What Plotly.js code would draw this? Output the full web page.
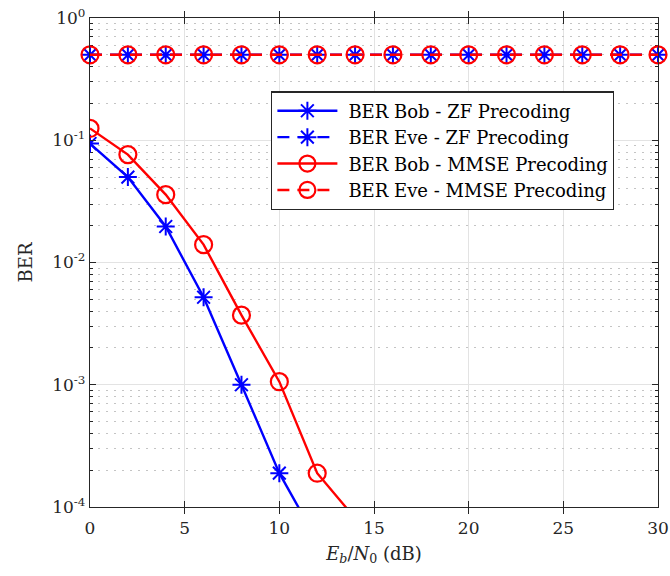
<!DOCTYPE html>
<html>
<head>
<meta charset="utf-8">
<script src="https://cdn.plot.ly/plotly-3.0.1.min.js"></script>
<style>html,body{margin:0;padding:0;background:#fff;}#chart{width:670px;height:576px;}</style>
</head>
<body>
<div id="chart"></div>
<script>
const snr = [0, 2, 4, 6, 8, 10, 12, 14, 16, 18, 20, 22, 24, 26, 28, 30];
const berBobZF   = [0.094, 0.050, 0.0197, 0.0052, 0.00100, 0.000189, 0.000053, null, null, null, null, null, null, null, null, null];
const berEveZF   = [0.5, 0.5, 0.5, 0.5, 0.5, 0.5, 0.5, 0.5, 0.5, 0.5, 0.5, 0.5, 0.5, 0.5, 0.5, 0.5];
const berBobMMSE = [0.125, 0.0763, 0.0359, 0.0140, 0.00371, 0.00106, 0.000189, 0.000081, null, null, null, null, null, null, null, null];
const berEveMMSE = [0.5, 0.5, 0.5, 0.5, 0.5, 0.5, 0.5, 0.5, 0.5, 0.5, 0.5, 0.5, 0.5, 0.5, 0.5, 0.5];
const seriesNames = ['BER Bob - ZF Precoding', 'BER Eve - ZF Precoding', 'BER Bob - MMSE Precoding', 'BER Eve - MMSE Precoding'];
const yTickVals = [1e-4, 1e-3, 1e-2, 1e-1, 1];
const yTickText = ['10<sup>-4</sup>', '10<sup>-3</sup>', '10<sup>-2</sup>', '10<sup>-1</sup>', '10<sup>0</sup>'];
const yMinorMantissas = [2, 3, 4, 5, 6, 7, 8, 9];
const xTickVals = [0, 5, 10, 15, 20, 25, 30];

const yMinorVals = [];
yTickVals.slice(0, -1).forEach(d => yMinorMantissas.forEach(m => yMinorVals.push(d * m)));

const blue = '#0000ff', red = '#ff0000';
const starMarker = {symbol: 'asterisk-open', size: 15, color: blue, line: {color: blue, width: 2}};
const circMarker = {symbol: 'circle-open', size: 17, color: red, line: {color: red, width: 2.2}};

const traces = [
  {x: snr, y: berBobZF, name: seriesNames[0], mode: 'lines+markers', line: {color: blue, width: 2.4}, marker: starMarker},
  {x: snr, y: berEveZF, name: seriesNames[1], mode: 'lines+markers', line: {color: blue, width: 2.4, dash: '12px,8px'}, marker: starMarker, cliponaxis: false},
  {x: snr, y: berBobMMSE, name: seriesNames[2], mode: 'lines+markers', line: {color: red, width: 2.4}, marker: circMarker},
  {x: snr, y: berEveMMSE, name: seriesNames[3], mode: 'lines+markers', line: {color: red, width: 2.4, dash: '12px,8px'}, marker: circMarker, cliponaxis: false},
  {x: [null], y: [null], yaxis: 'y2', showlegend: false, hoverinfo: 'skip', mode: 'markers'}
];

const fam = 'DejaVu Serif';
const axisColor = '#262626';

const layout = {
  width: 670, height: 576,
  margin: {l: 90, r: 12, t: 18, b: 69},
  paper_bgcolor: '#fff', plot_bgcolor: '#fff',
  font: {family: fam, size: 16, color: axisColor},
  showlegend: true,
  legend: {
    x: 0.319, y: 0.85, xanchor: 'left', yanchor: 'top',
    bgcolor: '#fff', bordercolor: axisColor, borderwidth: 1.2,
    font: {family: fam, size: 18, color: '#000'},
    itemwidth: 66, tracegroupgap: 0
  },
  xaxis: {
    range: [0, 30], tickvals: xTickVals, ticks: 'inside', ticklen: 6, tickcolor: axisColor,
    showline: true, linecolor: axisColor, linewidth: 1.2, mirror: 'allticks',
    showgrid: true, gridcolor: '#e3e3e3', gridwidth: 1, zeroline: false,
    ticklabelstandoff: 5,
    tickfont: {family: fam, size: 17, color: axisColor},
    title: {text: '<i>E</i><sub><i>b</i></sub>/<i>N</i><sub>0</sub> (dB)', font: {family: fam, size: 18, color: axisColor}, standoff: 10}
  },
  yaxis: {
    type: 'log', range: [-4, 0], tickvals: yTickVals, ticktext: yTickText,
    ticks: 'inside', ticklen: 6, tickcolor: axisColor,
    showline: true, linecolor: axisColor, linewidth: 1.2, mirror: 'allticks',
    showgrid: true, gridcolor: '#e3e3e3', gridwidth: 1, zeroline: false,
    tickfont: {family: fam, size: 17, color: axisColor},
    title: {text: 'BER', font: {family: fam, size: 18, color: axisColor}, standoff: 14}
  },
  yaxis2: {
    type: 'log', range: [-4, 0], overlaying: 'y', side: 'left',
    tickvals: yMinorVals, ticktext: yMinorVals.map(() => ''),
    ticks: 'inside', ticklen: 3, tickcolor: axisColor, mirror: 'allticks', showline: false,
    showgrid: true, gridcolor: '#c4c4c4', griddash: '2px,6px', gridwidth: 1, zeroline: false,
    layer: 'below traces'
  }
};

function fixLegend() {
  // lengthen legend line samples (MATLAB style) and center markers on them
  document.querySelectorAll('.legendlines path').forEach(p => p.setAttribute('d', 'M5,0h60'));
  document.querySelectorAll('.legendpoints path').forEach(p => p.setAttribute('transform', 'translate(35,0)'));
}

const gdEl = document.getElementById('chart');
Plotly.newPlot(gdEl, traces, layout, {displayModeBar: false, staticPlot: true});
fixLegend();
gdEl.on && gdEl.on('plotly_afterplot', fixLegend);
setTimeout(fixLegend, 0);
setTimeout(fixLegend, 200);
</script>
</body>
</html>
